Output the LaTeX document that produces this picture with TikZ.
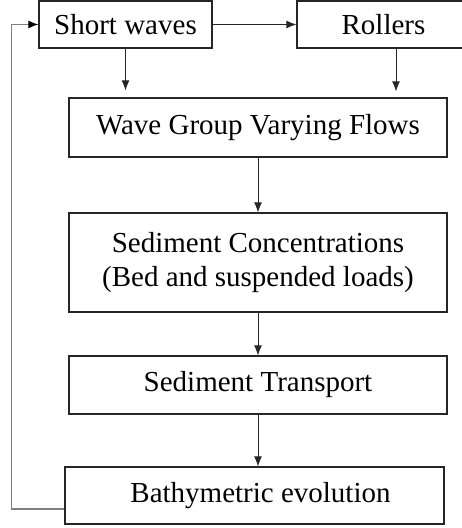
\documentclass[tikz,border=0pt]{standalone}
\usepackage{fontspec}
\setmainfont{Liberation Serif}
\usetikzlibrary{arrows.meta}
\begin{document}
\begin{tikzpicture}[x=1pt,y=-1pt,
  box/.style={draw=black!85, line width=1.3pt, inner sep=0pt, align=center, font=\fontsize{29}{34}\selectfont},
  arr/.style={-{Latex[length=10pt,width=8pt]}, line width=0.8pt, black!85},
  fb/.style={draw=gray, line width=1.1pt, -{Latex[length=10pt,width=8pt,color=black]}}]
\useasboundingbox (0,0) rectangle (461,528);
\node[box, minimum width=173pt, minimum height=47pt] (sw) at (125.5,24.5) {Short waves};
\node[box, minimum width=173pt, minimum height=47pt] (ro) at (383.5,24.5) {Rollers};
\node[box, minimum width=378pt, minimum height=59pt] (wg) at (258,127.5) {Wave Group Varying Flows};
\node[box, minimum width=378pt, minimum height=99pt] (sc) at (258,262.5) {Sediment Concentrations\\(Bed and suspended loads)};
\node[box, minimum width=378pt, minimum height=58pt] (st) at (258,385) {Sediment Transport};
\node[box, minimum width=379pt, minimum height=57pt] (ba) at (254.5,495.5) {\hspace*{12pt}Bathymetric evolution};
\draw[arr] (sw.east) -- (ro.west);
\draw[arr, shorten >=7pt] (sw.south) -- (sw.south |- wg.north);
\coordinate (rx) at ([xshift=12.5pt]ro.south);
\draw[arr, shorten >=6pt] (rx) -- (rx |- wg.north);
\draw[arr] (wg.south) -- (sc.north);
\draw[arr] (sc.south) -- (st.north);
\draw[arr] (st.south) -- (st.south |- ba.north);
\coordinate (fbs) at ([yshift=-13.5pt]ba.west);
\draw[fb] (fbs) -- ++(-53,0) |- (sw.west);
\end{tikzpicture}
\end{document}
